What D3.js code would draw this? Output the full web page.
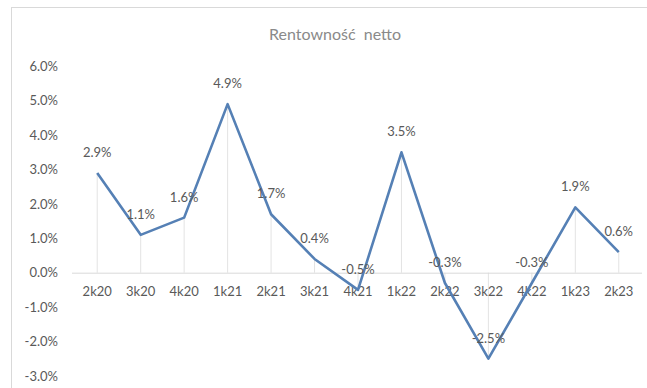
<!DOCTYPE html>
<html><head><meta charset="utf-8">
<script src="https://cdn.jsdelivr.net/npm/d3@7"></script>
<style>body{margin:0;background:#fff}svg{display:block}text{white-space:pre}</style>
</head><body>
<script>
const categories = ["2k20","3k20","4k20","1k21","2k21","3k21","4k21","1k22","2k22","3k22","4k22","1k23","2k23"];
const values = [2.9, 1.1, 1.6, 4.9, 1.7, 0.4, -0.5, 3.5, -0.3, -2.5, -0.3, 1.9, 0.6];
const yTicks = [-3, -2, -1, 0, 1, 2, 3, 4, 5, 6];
const title = "Rentowność  netto";

const W = 647, H = 388;
const svg = d3.select("body").append("svg").attr("width", W).attr("height", H);
const font = "Lato, 'Open Sans', sans-serif";
const pct = d => d.toFixed(1) + "%";

svg.append("rect").attr("x", 11.5).attr("y", 7.5).attr("width", 660).attr("height", 400)
  .attr("fill", "#fff").attr("stroke", "#d9d9d9");

const x = d3.scaleBand().domain(categories).range([75.5, 640.5]);
const y = d3.scaleLinear().domain([-3, 6]).range([375.9, 66.3]);

svg.append("text").attr("x", 335).attr("y", 40).attr("text-anchor", "middle")
  .attr("font-family", font).attr("font-size", 16).attr("fill", "#8a8a8a").text(title);

// y axis labels
const yAxis = d3.axisLeft(y).tickValues(yTicks).tickSize(0).tickPadding(0).tickFormat(pct);
const yg = svg.append("g").attr("transform", "translate(58,0)").call(yAxis);
yg.select(".domain").remove();
yg.selectAll("text").attr("font-family", font).attr("font-size", 13).attr("fill", "#595959");

// drop lines
svg.append("g").selectAll("line").data(values).join("line")
  .attr("x1", (d, i) => x(categories[i]) + x.bandwidth() / 2)
  .attr("x2", (d, i) => x(categories[i]) + x.bandwidth() / 2)
  .attr("y1", y(0)).attr("y2", d => y(d))
  .attr("stroke", "#e3e3e3").attr("stroke-width", 1);

// x axis
const xAxis = d3.axisBottom(x).tickSize(0).tickPadding(14);
const xg = svg.append("g").attr("transform", `translate(0,${y(0)})`).call(xAxis);
xg.select(".domain").attr("stroke", "#d9d9d9").attr("d", `M${72},0.5H${642}`);
xg.selectAll("text").attr("font-family", font).attr("font-size", 13).attr("fill", "#595959");

// line
const line = d3.line().x((d, i) => x(categories[i]) + x.bandwidth() / 2).y(d => y(d));
svg.append("path").datum(values).attr("d", line).attr("fill", "none")
  .attr("stroke", "#5580b5").attr("stroke-width", 2.6).attr("stroke-linejoin", "round");

// data labels
svg.append("g").selectAll("text").data(values).join("text")
  .attr("x", (d, i) => x(categories[i]) + x.bandwidth() / 2)
  .attr("y", d => y(d) - 16)
  .attr("text-anchor", "middle")
  .attr("font-family", font).attr("font-size", 13).attr("fill", "#595959")
  .text(pct);
</script>
</body></html>
